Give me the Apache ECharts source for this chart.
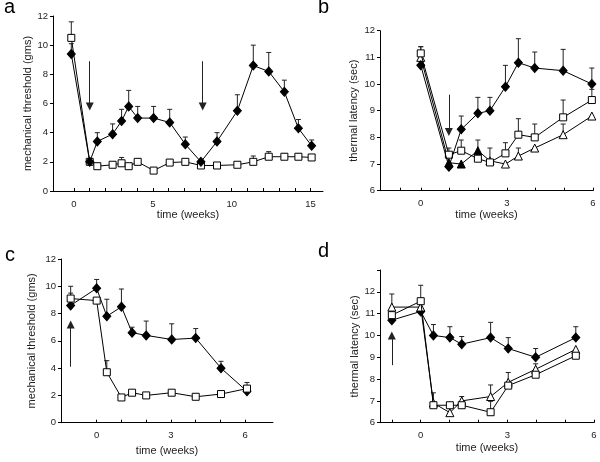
<!DOCTYPE html>
<html><head><meta charset="utf-8">
<script src="https://cdn.jsdelivr.net/npm/echarts@6/dist/echarts.min.js"></script>
<style>html,body{margin:0;padding:0;background:#fff}#c{width:600px;height:462px}</style>
</head><body><div id="c"></div>
<script>
// ---------- Panel a: mechanical threshold ----------
const A_WEEKS = [-0.17, 1.0, 1.48, 2.45, 3.02, 3.47, 4.04, 5.05, 6.07, 7.06, 8.05, 9.07, 10.36, 11.37, 12.35, 13.34, 14.23, 15.07];
const A_DIAMOND = [9.4, 2.0, 3.4, 3.9, 4.8, 5.8, 5.0, 5.0, 4.7, 3.2, 2.0, 3.4, 5.5, 8.6, 8.2, 6.8, 4.3, 3.1];
const A_DIAMOND_ERR = [10.1, null, 4.0, 4.6, 5.6, 6.9, 5.8, 5.8, 5.6, 3.7, null, 4.0, 6.6, 10.0, 9.5, 7.6, 4.9, 3.5];
const A_SQUARE = [10.5, 2.0, 1.7, 1.8, 1.9, 1.7, 2.0, 1.4, 1.95, 2.0, 1.75, 1.75, 1.8, 2.0, 2.35, 2.35, 2.35, 2.3];
const A_SQUARE_ERR = [11.6, null, null, null, 2.3, null, null, null, 2.15, null, null, null, null, 2.4, 2.7, 2.55, 2.55, null];
const A_ARROWS = [[1.0, 8.9, 5.8], [8.16, 8.9, 5.8]];
const A_XLABELS = [0, 5, 10, 15];
const A_XTICKS = [0,1,2,3,4,5,6,7,8,9,10,11,12,13,14,15];

// ---------- Panel b: thermal latency ----------
const B_WEEKS = [0, 0.98, 1.41, 1.99, 2.41, 2.95, 3.4, 3.97, 4.96, 5.96];
const B_DIAMOND = [10.7, 6.9, 8.3, 8.9, 9.0, 9.9, 10.8, 10.6, 10.5, 10.0];
const B_DIAMOND_ERR = [11.4, null, 8.8, 9.5, 9.5, 10.7, 11.7, 11.2, 11.3, 10.6];
const B_SQUARE = [11.15, 7.35, 7.5, 7.2, 7.06, 7.4, 8.1, 8.0, 8.75, 9.4];
const B_SQUARE_ERR = [11.4, 7.6, 7.9, null, 7.6, 7.8, 8.7, 8.5, 9.4, 9.8];
const B_TRIANGLE = [11.0, 7.05, 7.0, 7.5, 7.12, 7.0, 7.3, 7.6, 8.1, 8.8];
const B_TRIANGLE_ERR = [null, null, null, 7.9, null, null, 7.6, null, 8.5, null];
const B_ARROWS = [[0.98, 9.6, 8.2]];
const B_XLABELS = [0, 3, 6];
const B_XTICKS = [-0.7, 0, 1, 2, 3, 4, 5, 6];

// ---------- Panel c: mechanical threshold ----------
const C_WEEKS = [-1.05, 0, 0.41, 1.0, 1.43, 2.0, 3.03, 4.0, 5.02, 6.07];
const C_DIAMOND = [8.6, 9.85, 7.8, 8.5, 6.6, 6.4, 6.1, 6.2, 4.0, 2.3];
const C_DIAMOND_ERR = [9.5, 10.5, 9.05, 9.8, 7.0, 7.45, 7.25, 6.9, 4.5, null];
const C_SQUARE = [9.1, 8.95, 3.7, 1.85, 2.2, 2.0, 2.2, 1.9, 2.1, 2.5];
const C_SQUARE_ERR = [10.0, null, 4.55, null, null, null, null, null, null, 2.95];
const C_ARROWS = [[-1.05, 4.1, 7.2]];
const C_XLABELS = [0, 3, 6];
const C_XTICKS = [0, 1, 2, 3, 4, 5, 6];

// ---------- Panel d: thermal latency ----------
const D_WEEKS = [-1.0, 0, 0.44, 1.01, 1.42, 2.42, 3.03, 3.98, 5.37];
const D_DIAMOND = [10.7, 11.1, 10.0, 9.9, 9.6, 9.9, 9.4, 9.0, 9.9];
const D_DIAMOND_ERR = [null, null, 10.5, 10.4, 9.95, 10.6, 9.9, 9.4, 10.4];
const D_SQUARE = [10.93, 11.57, 6.8, 6.8, 6.8, 6.48, 7.7, 8.2, 9.07];
const D_SQUARE_ERR = [null, 12.3, 7.37, null, null, 6.98, null, null, null];
const D_TRIANGLE = [11.3, 11.3, 6.9, 6.46, 7.0, 7.2, 7.85, 8.45, 9.36];
const D_TRIANGLE_ERR = [11.9, null, null, null, 7.2, 7.73, 8.3, 8.7, null];
const D_ARROWS = [[-1.0, 8.64, 10.0]];
const D_XLABELS = [0, 3, 6];
const D_XTICKS = [-1, 0, 1, 2, 3, 4, 5, 6];

// style constants
const B_TRIANGLE_FILLED_IDX = [1, 2, 3];
const FONT = 'Liberation Sans';

function pairs(xs, ys){ return xs.map((x,i)=>[x, ys[i]]); }
function errs(xs, ys, hs){ return xs.map((x,i)=> hs[i]==null ? null : [x, ys[i], hs[i]]).filter(Boolean); }

function errRender(params, api){
  const x = api.value(0), y = api.value(1), hi = api.value(2);
  const p0 = api.coord([x, y]), p1 = api.coord([x, hi]);
  const w = 2.5;
  return {type:'group', children:[
    {type:'line', shape:{x1:p0[0], y1:p0[1], x2:p1[0], y2:p1[1]}, style:{stroke:'#222', lineWidth:1}},
    {type:'line', shape:{x1:p1[0]-w, y1:p1[1], x2:p1[0]+w, y2:p1[1]}, style:{stroke:'#222', lineWidth:1}}
  ]};
}

function errSeries(idx, data){
  return {type:'custom', xAxisIndex:idx, yAxisIndex:idx, data:data, renderItem:errRender, z:1, silent:true,
    encode:{x:0, y:[1,2]}};
}

const MARK = {
  diamond: {symbol:'diamond', symbolSize:[8,9], itemStyle:{color:'#000', borderColor:'#000', borderWidth:1}},
  square: {symbol:'rect', symbolSize:7, itemStyle:{color:'#fff', borderColor:'#000', borderWidth:1}},
  triangle: {symbol:'triangle', symbolSize:8, itemStyle:{color:'#fff', borderColor:'#000', borderWidth:1}}
};

function lineSeries(idx, data, kind, z, extra){
  const s = Object.assign({type:'line', xAxisIndex:idx, yAxisIndex:idx, data:data, z:z||3,
    lineStyle:{color:'#000', width:1}, showSymbol:true, silent:true, animation:false}, MARK[kind]);
  return Object.assign(s, extra||{});
}

function arrowMark(arrows){
  return {silent:true, symbol:['none','triangle'], symbolSize:[8,8], animation:false,
    lineStyle:{color:'#222', width:1, type:'solid'}, label:{show:false}, emphasis:{disabled:true},
    data: arrows.map(a => [{coord:[a[0], a[1]]}, {coord:[a[0], a[2]]}])};
}

function xAxis(idx, min, max, labels, ticks, gap){
  return {type:'value', gridIndex:idx, min:min, max:max, name:'time (weeks)', nameLocation:'middle', nameGap:gap,
    nameTextStyle:{fontFamily:FONT, fontSize:11, color:'#222'},
    axisLine:{show:true, onZero:false, lineStyle:{color:'#000', width:1}},
    axisTick:{show:true, inside:true, length:3, customValues:ticks, lineStyle:{color:'#000'}},
    axisLabel:{customValues:labels, fontFamily:FONT, fontSize:9.5, color:'#222', margin:8},
    splitLine:{show:false}};
}
function yAxis(idx, min, max, interval, name, gap, hideMax){
  return {type:'value', gridIndex:idx, min:min, max:max, interval:interval, name:name, nameLocation:'middle', nameGap:gap,
    nameTextStyle:{fontFamily:FONT, fontSize:11, color:'#222'},
    axisLine:{show:true, onZero:false, lineStyle:{color:'#000', width:1}},
    axisTick:{show:true, inside:false, length:3, lineStyle:{color:'#000'}},
    axisLabel:{fontFamily:FONT, fontSize:9.5, color:'#222', margin:5,
      formatter: v => (hideMax && v === max) ? '' : String(v)},
    splitLine:{show:false}};
}

const triB = pairs(B_WEEKS, B_TRIANGLE).map((p,i)=> B_TRIANGLE_FILLED_IDX.includes(i)
  ? {value:p, itemStyle:{color:'#000'}} : {value:p});

const option = {
  animation:false,
  backgroundColor:'#fff',
  grid:[
    {left:53, top:16, width:270, height:175},
    {left:380, top:30.7, width:213, height:160},
    {left:61, top:259, width:212, height:163.7},
    {left:380, top:270, width:214, height:152.7}
  ],
  xAxis:[
    xAxis(0, -1.33, 15.79, A_XLABELS, A_XTICKS, 16),
    xAxis(1, -1.42, 6, B_XLABELS, B_XTICKS, 16),
    xAxis(2, -1.44, 7.12, C_XLABELS, C_XTICKS, 23),
    xAxis(3, -1.41, 6, D_XLABELS, D_XTICKS, 20)
  ],
  yAxis:[
    yAxis(0, 0, 12, 2, 'mechanical threshold (gms)', 15, false),
    yAxis(1, 6, 12, 1, 'thermal latency (sec)', 21, false),
    yAxis(2, 0, 12, 2, 'mechanical threshold (gms)', 24, false),
    yAxis(3, 6, 13, 1, 'thermal latency (sec)', 20, true)
  ],
  graphic:[
    {type:'text', left:4, top:-3, style:{text:'a', font:'20px "Liberation Sans"', fill:'#000'}},
    {type:'text', left:318, top:-3, style:{text:'b', font:'20px "Liberation Sans"', fill:'#000'}},
    {type:'text', left:5, top:245, style:{text:'c', font:'20px "Liberation Sans"', fill:'#000'}},
    {type:'text', left:318, top:241, style:{text:'d', font:'20px "Liberation Sans"', fill:'#000'}}
  ],
  series:[
    // a
    errSeries(0, errs(A_WEEKS, A_DIAMOND, A_DIAMOND_ERR)),
    errSeries(0, errs(A_WEEKS, A_SQUARE, A_SQUARE_ERR)),
    lineSeries(0, pairs(A_WEEKS, A_SQUARE), 'square', 3),
    lineSeries(0, pairs(A_WEEKS, A_DIAMOND), 'diamond', 4, {markLine: arrowMark(A_ARROWS)}),
    // b
    errSeries(1, errs(B_WEEKS, B_DIAMOND, B_DIAMOND_ERR)),
    errSeries(1, errs(B_WEEKS, B_SQUARE, B_SQUARE_ERR)),
    errSeries(1, errs(B_WEEKS, B_TRIANGLE, B_TRIANGLE_ERR)),
    lineSeries(1, triB, 'triangle', 3),
    lineSeries(1, pairs(B_WEEKS, B_SQUARE), 'square', 4),
    lineSeries(1, pairs(B_WEEKS, B_DIAMOND), 'diamond', 5, {markLine: arrowMark(B_ARROWS)}),
    // c
    errSeries(2, errs(C_WEEKS, C_DIAMOND, C_DIAMOND_ERR)),
    errSeries(2, errs(C_WEEKS, C_SQUARE, C_SQUARE_ERR)),
    lineSeries(2, pairs(C_WEEKS, C_SQUARE), 'square', 4),
    lineSeries(2, pairs(C_WEEKS, C_DIAMOND), 'diamond', 3, {markLine: arrowMark(C_ARROWS)}),
    // d
    errSeries(3, errs(D_WEEKS, D_DIAMOND, D_DIAMOND_ERR)),
    errSeries(3, errs(D_WEEKS, D_SQUARE, D_SQUARE_ERR)),
    errSeries(3, errs(D_WEEKS, D_TRIANGLE, D_TRIANGLE_ERR)),
    lineSeries(3, pairs(D_WEEKS, D_DIAMOND), 'diamond', 3, {markLine: arrowMark(D_ARROWS)}),
    lineSeries(3, pairs(D_WEEKS, D_TRIANGLE), 'triangle', 4),
    lineSeries(3, pairs(D_WEEKS, D_SQUARE), 'square', 5)
  ]
};
const chart = echarts.init(document.getElementById('c'), null, {renderer:'canvas'});
chart.setOption(option);
</script>
</body></html>
